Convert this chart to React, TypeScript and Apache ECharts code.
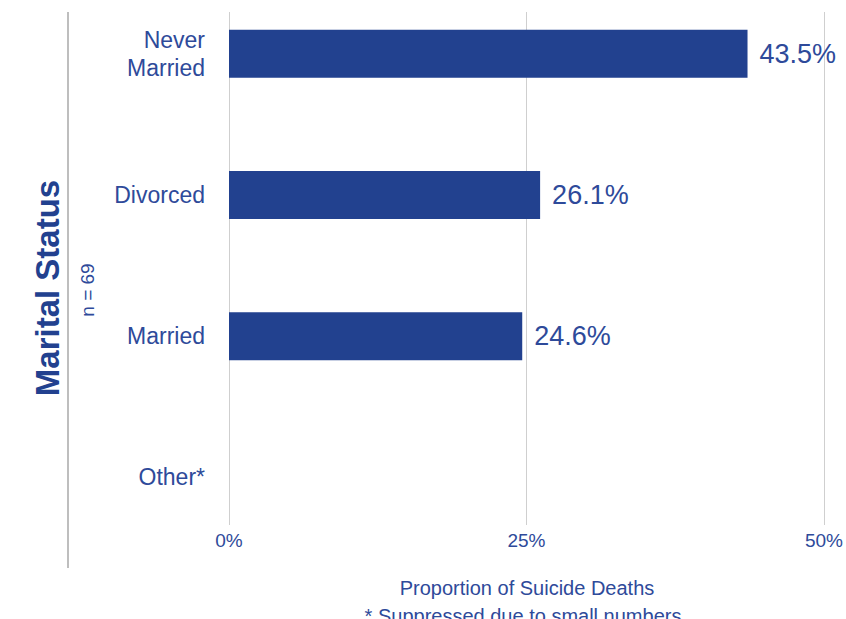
import React, { useEffect, useRef } from "react";
import * as echarts from "echarts";

const categories = ["Never\nMarried", "Divorced", "Married", "Other*"];
const values: (number | null)[] = [43.5, 26.1, 24.6, null];
const axisTicks = [0, 25, 50];
const axisTitle = "Proportion of Suicide Deaths";
const footnote = "* Suppressed due to small numbers";
const mainTitle = "Marital Status";
const sampleSize = "n = 69";

const BAR = "#22418f";
const TEXT = "#2e4a9a";
const FONT = "'Liberation Sans', Arial, Helvetica, sans-serif";
const OFF = 20; // inner chart is shifted up by this many pixels

export default function App() {
  const ref = useRef<HTMLDivElement>(null);
  useEffect(() => {
    document.body.style.margin = "0";
    document.body.style.overflow = "hidden";
    const chart = echarts.init(ref.current!, null, { renderer: "svg" });
    const minX = axisTicks[0];
    const maxX = axisTicks[axisTicks.length - 1];
    const step = axisTicks[1] - axisTicks[0];
    chart.setOption({
      animation: false,
      textStyle: { fontFamily: FONT },
      grid: [
        { left: 229, right: 21, top: -17 + OFF, height: 565, containLabel: false },
        { left: 229, right: 21, top: 12 + OFF, height: 513, containLabel: false },
      ],
      xAxis: [
        { gridIndex: 0, type: "value", min: minX, max: maxX, show: false },
        {
          gridIndex: 1,
          type: "value",
          min: minX,
          max: maxX,
          interval: step,
          axisLine: { show: false },
          axisTick: { show: false },
          splitLine: { show: true, lineStyle: { color: "#cfcfcf", width: 1 } },
          axisLabel: {
            formatter: "{value}%",
            color: TEXT,
            fontSize: 19,
            margin: 6,
            fontFamily: FONT,
          },
        },
      ],
      yAxis: [
        {
          gridIndex: 0,
          type: "category",
          data: categories,
          inverse: true,
          axisLine: { show: false },
          axisTick: { show: false },
          splitLine: { show: false },
          axisLabel: {
            color: TEXT,
            fontSize: 23,
            lineHeight: 28,
            margin: 24,
            align: "right",
            fontFamily: FONT,
          },
        },
        { gridIndex: 1, type: "value", min: 0, max: 1, show: false },
      ],
      series: [
        {
          type: "bar",
          xAxisIndex: 0,
          yAxisIndex: 0,
          data: values,
          barWidth: 48,
          itemStyle: { color: BAR },
          label: {
            show: true,
            position: "right",
            distance: 12,
            formatter: (p: any) => (p.value == null ? "" : `${p.value}%`),
            color: TEXT,
            fontSize: 27,
            fontFamily: FONT,
          },
        },
      ],
      graphic: [
        {
          type: "line",
          shape: { x1: 68, y1: 12 + OFF, x2: 68, y2: 568 + OFF },
          style: { stroke: "#a8a8a8", lineWidth: 1.5 },
        },
        {
          type: "text",
          x: 47,
          y: 288 + OFF,
          rotation: Math.PI / 2,
          style: {
            text: mainTitle,
            fill: BAR,
            font: `bold 33px ${FONT}`,
            textAlign: "center",
            textVerticalAlign: "middle",
          },
        },
        {
          type: "text",
          x: 87,
          y: 290 + OFF,
          rotation: Math.PI / 2,
          style: {
            text: sampleSize,
            fill: TEXT,
            font: `19px ${FONT}`,
            textAlign: "center",
            textVerticalAlign: "middle",
          },
        },
        {
          type: "text",
          x: 527,
          y: 588 + OFF,
          style: {
            text: axisTitle,
            fill: TEXT,
            font: `20px ${FONT}`,
            textAlign: "center",
            textVerticalAlign: "middle",
          },
        },
        {
          type: "text",
          x: 523,
          y: 616 + OFF,
          style: {
            text: footnote,
            fill: TEXT,
            font: `20px ${FONT}`,
            textAlign: "center",
            textVerticalAlign: "middle",
          },
        },
      ],
    });
    return () => chart.dispose();
  }, []);
  return (
    <div style={{ width: 846, height: 619, overflow: "hidden", position: "relative" }}>
      <div ref={ref} style={{ width: 846, height: 619 + 2 * OFF, position: "absolute", left: 0, top: -OFF }} />
    </div>
  );
}
